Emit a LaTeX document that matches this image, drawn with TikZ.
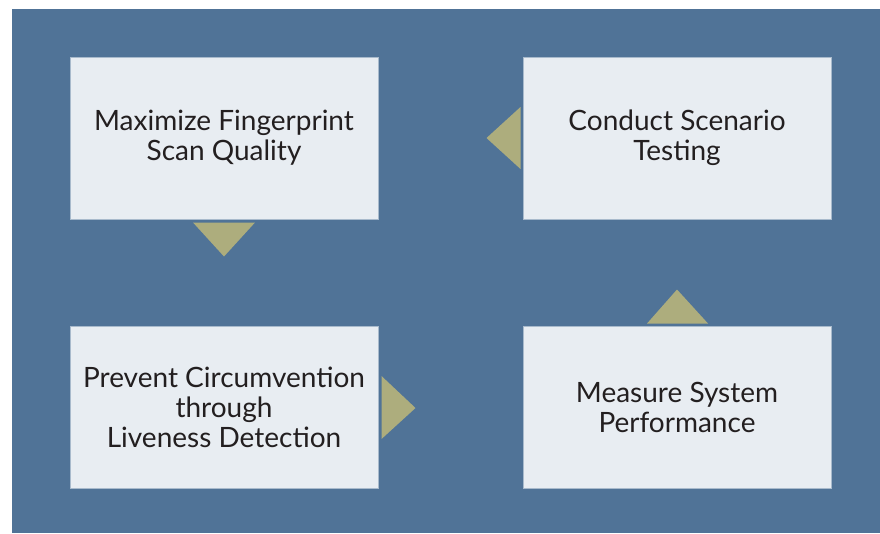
\documentclass[tikz,border=0pt]{standalone}
\usepackage{fontspec}
\setmainfont{Lato}
\usepackage{tikz}
\usetikzlibrary{calc}

\definecolor{bgblue}{RGB}{80,115,151}
\definecolor{boxfill}{RGB}{232,237,242}
\definecolor{boxline}{RGB}{168,186,204}
\definecolor{arrowkhaki}{RGB}{173,173,125}
\definecolor{textgray}{RGB}{35,31,32}

\tikzset{
    stepbox/.style={draw=boxline, line width=1pt, fill=boxfill, minimum width=308pt,
        minimum height=162pt, align=center, text=textgray, inner sep=0pt,
        font=\fontsize{28}{30}\selectfont},
    tri/.style={fill=arrowkhaki}
}

\begin{document}
\begin{tikzpicture}[x=1pt,y=-1pt]

            % Frame and background
            \fill[white] (0,0) rectangle (880,533);
            \useasboundingbox (0,0) rectangle (880,533);
            \fill[bgblue] (12,9) rectangle (880,533);

            % Boxes
            \node[stepbox] (maximize) at (224,138) {Maximize Fingerprint\\Scan Quality};
            \node[stepbox] (conduct) at (677,138) {Conduct Scenario\\Testing};
            \node[stepbox] (prevent) at (224,407) {Prevent Circumvention\\through\\Liveness Detection};
            \node[stepbox] (measure) at (677,407) {Measure System\\Performance};

            % Arrow heads between the boxes
            \fill[tri] ($(maximize.south)+(-31,3)$) -- ($(maximize.south)+(31,3)$) -- ($(maximize.south)+(0,37)$) -- cycle; % Maximize to Prevent
            \fill[tri] ($(prevent.east)+(3,-31)$) -- ($(prevent.east)+(3,32)$) -- ($(prevent.east)+(37,1)$) -- cycle; % Prevent to Measure
            \fill[tri] ($(measure.north)+(-30,-2)$) -- ($(measure.north)+(31,-2)$) -- ($(measure.north)+(0,-36)$) -- cycle; % Measure to Conduct
            \fill[tri] ($(conduct.west)+(-2,-31)$) -- ($(conduct.west)+(-2,31)$) -- ($(conduct.west)+(-36,0)$) -- cycle; % Conduct to Maximize

\end{tikzpicture}
\end{document}
